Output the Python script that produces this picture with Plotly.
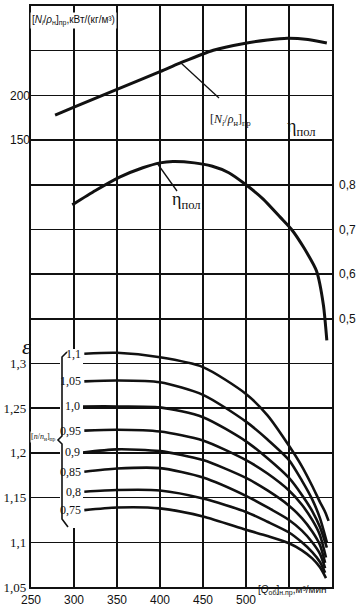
import plotly.graph_objects as go

# ---------------- data ----------------
# Specific power  [N_i/rho_n]_pr , kW/(kg/m3)
N_Q = [278, 300, 350, 400, 423, 462, 501, 525, 548, 572, 594]
N_VAL = [178, 186.8, 206.8, 226.5, 236, 250.5, 258.6, 262, 264, 262.5, 258.5]

# Polytropic efficiency eta_pol
ETA_Q = [298, 325, 353, 380, 400, 415, 440, 460, 480, 500, 520, 540, 553, 567, 582, 590, 594]
ETA_VAL = [0.755, 0.787, 0.817, 0.838, 0.849, 0.852, 0.849, 0.842, 0.827, 0.80, 0.768,
           0.727, 0.70, 0.66, 0.607, 0.531, 0.452]

# Pressure ratio epsilon for relative speeds [n/n_n]_pr
SPEED_LABELS = ["1,1", "1,05", "1,0", "0,95", "0,9", "0,85", "0,8", "0,75"]
EPS_Q = [
    [312, 350, 400, 450, 500, 525, 550, 565, 577, 586, 592, 596],
    [312, 350, 400, 450, 500, 525, 550, 565, 577, 586, 594],
    [310, 350, 400, 450, 500, 525, 550, 565, 577, 586, 594],
    [312, 350, 400, 450, 500, 525, 550, 565, 577, 586, 593],
    [310, 350, 400, 450, 500, 525, 550, 565, 577, 586, 592],
    [312, 350, 400, 450, 500, 525, 550, 565, 577, 586, 592],
    [312, 350, 400, 450, 500, 525, 550, 565, 577, 586, 592],
    [312, 350, 400, 450, 500, 525, 550, 565, 577, 586, 593],
]
EPS_VAL = [
    [1.311, 1.312, 1.307, 1.296, 1.266, 1.242, 1.208, 1.185, 1.163, 1.145, 1.134, 1.124],
    [1.280, 1.281, 1.279, 1.265, 1.235, 1.215, 1.192, 1.169, 1.148, 1.127, 1.100],
    [1.252, 1.252, 1.251, 1.240, 1.213, 1.194, 1.172, 1.153, 1.135, 1.117, 1.094],
    [1.225, 1.226, 1.224, 1.214, 1.192, 1.177, 1.158, 1.142, 1.125, 1.108, 1.083],
    [1.2005, 1.204, 1.202, 1.192, 1.172, 1.158, 1.141, 1.127, 1.112, 1.097, 1.077],
    [1.179, 1.1825, 1.183, 1.1725, 1.152, 1.139, 1.125, 1.113, 1.100, 1.087, 1.071],
    [1.1566, 1.1585, 1.158, 1.149, 1.134, 1.123, 1.111, 1.100, 1.089, 1.078, 1.066],
    [1.136, 1.139, 1.138, 1.129, 1.114, 1.107, 1.099, 1.091, 1.082, 1.072, 1.060],
]

# ticks / grid
X_TICKS = [250, 300, 350, 400, 450, 500, 550, 600]
X_TICK_TEXT = ["250", "300", "350", "400", "450", "500", " ", " "]
EPS_TICKS = [1.05, 1.10, 1.15, 1.20, 1.25, 1.30, 1.35, 1.40, 1.45, 1.50, 1.55, 1.60, 1.65, 1.70]
EPS_TICK_TEXT = ["1,05", "1,1", "1,15", "1,2", "1,25", "1,3", " ", " ", " ", " ", " ", " ", " ", " "]
ETA_TICKS = [0.5, 0.6, 0.7, 0.8]
ETA_TICK_TEXT = ["0,5", "0,6", "0,7", "0,8"]
N_TICKS = [150, 200]
N_TICK_TEXT = ["150", "200"]

# ---------------- geometry helpers (pixel -> paper) for decorations ----------------
L, R, T, B = 31, 332, 6, 587


def px(x):
    return (x - L) / (R - L)


def py(y):
    return (B - y) / (B - T)


INK = "#111111"
fig = go.Figure()

fig.add_trace(go.Scatter(x=N_Q, y=N_VAL, yaxis="y3", mode="lines",
                         line=dict(color=INK, width=3, shape="spline", smoothing=0.8),
                         hoverinfo="skip", showlegend=False))
fig.add_trace(go.Scatter(x=ETA_Q, y=ETA_VAL, yaxis="y2", mode="lines",
                         line=dict(color=INK, width=3, shape="spline", smoothing=0.6),
                         hoverinfo="skip", showlegend=False))
for q, e in zip(EPS_Q, EPS_VAL):
    fig.add_trace(go.Scatter(x=q, y=e, mode="lines",
                             line=dict(color=INK, width=2.6, shape="spline", smoothing=0.7),
                             hoverinfo="skip", showlegend=False))

annotations = []
serif = "Liberation Serif"
sans = "Liberation Sans"

# speed labels at curve starts
for lab, q, e in zip(SPEED_LABELS, EPS_Q, EPS_VAL):
    annotations.append(dict(x=q[0], y=e[0], xref="x", yref="y", text=lab, showarrow=False,
                            xanchor="right", yanchor="middle", xshift=-1,
                            font=dict(family=serif, size=12, color=INK)))

# texts
annotations += [
    dict(x=px(30), y=py(12), xref="paper", yref="paper", xanchor="left", yanchor="top",
         text="[<i>N<sub>i</sub></i>/<i>ρ</i><sub>н</sub>]<sub>пр</sub>,кВт/(кг/м³)",
         showarrow=False, bgcolor="white", borderpad=1,
         font=dict(family=sans, size=10, color=INK)),
    dict(x=px(230), y=py(110), xref="paper", yref="paper",
         text="[<i>N<sub>i</sub></i>/<i>ρ</i><sub>н</sub>]<sub>пр</sub>",
         showarrow=False, font=dict(family=serif, size=12, color=INK)),
    dict(x=px(318), y=py(114), xref="paper", yref="paper",
         text="η<sub>пол</sub>", showarrow=False,
         font=dict(family=serif, size=18, color=INK)),
    dict(x=px(186), y=py(200), xref="paper", yref="paper",
         text="η<sub>пол</sub>", showarrow=False,
         font=dict(family=serif, size=18, color=INK)),
    dict(x=px(20), y=py(346), xref="paper", yref="paper",
         text="<i>ε</i>", showarrow=False,
         font=dict(family=serif, size=22, color=INK)),
    dict(x=px(57), y=py(443), xref="paper", yref="paper", xanchor="right",
         text="[<i>n</i>/<i>n</i><sub>н</sub>]<sub>пр</sub>", showarrow=False,
         bgcolor="white", borderpad=0,
         font=dict(family=serif, size=8, color=INK)),
    dict(x=px(256), y=py(590), xref="paper", yref="paper", xanchor="left", yanchor="middle",
         text="[<i>Q</i><sub>об</sub>]<sub>н.пр</sub>,м³/мин", showarrow=False,
         font=dict(family=sans, size=10, color=INK)),
]

shapes = [
    # white mask behind the speed labels (hides grid there)
    dict(type="rect", xref="paper", yref="paper", x0=px(60), x1=px(83), y0=py(528), y1=py(349),
         fillcolor="white", line=dict(width=0), layer="above"),
    # brace
    dict(type="path", xref="paper", yref="paper",
         path=(f"M {px(67)},{py(352)} L {px(62)},{py(357)} L {px(62)},{py(436)} "
               f"L {px(58)},{py(440)} L {px(62)},{py(444)} L {px(62)},{py(519)} L {px(68)},{py(527)}"),
         line=dict(color=INK, width=1.6)),
    # leader lines
    dict(type="line", xref="paper", yref="paper", x0=px(181), y0=py(63), x1=px(219), y1=py(98),
         line=dict(color=INK, width=1.3)),
    dict(type="line", xref="paper", yref="paper", x0=px(157), y0=py(163), x1=px(177), y1=py(191),
         line=dict(color=INK, width=1.3)),
]

fig.update_layout(
    width=360, height=609,
    margin=dict(l=L, r=360 - R, t=T, b=609 - B, autoexpand=False),
    paper_bgcolor="white", plot_bgcolor="white",
    showlegend=False,
    annotations=annotations, shapes=shapes,
    xaxis=dict(range=[250, 600], tickvals=X_TICKS, ticktext=X_TICK_TEXT, automargin=False,
               showgrid=True, gridcolor=INK, gridwidth=1.6, zeroline=False,
               showline=True, mirror=True, linecolor=INK, linewidth=2.2, ticks="",
               tickfont=dict(family=sans, size=12, color=INK)),
    yaxis=dict(range=[1.05, 1.70], tickvals=EPS_TICKS, ticktext=EPS_TICK_TEXT, automargin=False,
               showgrid=True, gridcolor=INK, gridwidth=1.6, zeroline=False,
               showline=True, mirror=True, linecolor=INK, linewidth=2.2, ticks="",
               tickfont=dict(family=serif, size=13, color=INK)),
    yaxis2=dict(range=[-0.1, 1.2], overlaying="y", side="right", anchor="x", automargin=False,
                tickvals=ETA_TICKS, ticktext=ETA_TICK_TEXT, showgrid=False, zeroline=False,
                showline=False, ticks="", ticklabelstandoff=6,
                tickfont=dict(family=sans, size=12, color=INK)),
    yaxis3=dict(range=[-350, 300], overlaying="y", side="left", anchor="x", automargin=False,
                tickvals=N_TICKS, ticktext=N_TICK_TEXT, showgrid=False, zeroline=False,
                showline=False, ticks="", tickfont=dict(family=sans, size=12, color=INK)),
)

fig.write_html("out.html", config={"displayModeBar": False, "staticPlot": True},
               post_script="document.body.style.margin='0';document.body.style.padding='0';")
